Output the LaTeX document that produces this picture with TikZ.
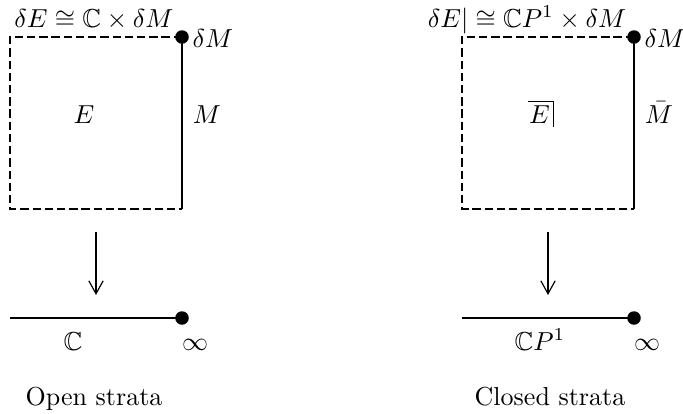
\documentclass[tikz,border=0pt]{standalone}
\usepackage{amssymb}
\usetikzlibrary{arrows.meta}
\newcommand{\cornerE}{$\overline{\mkern1mu E\mkern3mu}$\kern-0.4pt\rule[-1.5pt]{0.4pt}{9.93pt}}
\begin{document}
\begin{tikzpicture}[x=0.3846pt,y=-0.3846pt,
  dashedge/.style={line width=0.55pt,dash pattern=on 3.2pt off 1.5pt},
  solidedge/.style={line width=0.55pt},
  dot/.style={circle,fill=black,inner sep=0pt,minimum size=5.2pt},
  proj/.style={line width=0.45pt,-{Straight Barb[length=5pt,width=5.5pt]}},
  lbl/.style={inner sep=0pt,anchor=base},
  lblw/.style={inner sep=0pt,anchor=base west}]
\useasboundingbox (0,0) rectangle (683,413);
% ---------- left: open strata ----------
\coordinate (LTL) at (10,37);
\coordinate (LBL) at (10,209);
\coordinate (LBR) at (182,209);
\node[dot] (LTR) at (182,37) {};
\draw[dashedge] (LTR.center) -- (LTL) -- (LBL) -- (LBR);
\draw[solidedge] (LTR.center) -- (LBR);
\coordinate (LAs) at (96,232);
\coordinate (LAe) at (96,295);
\draw[proj] (LAs) -- (LAe);
\coordinate (LLs) at (10,318);
\node[dot] (LLe) at (182,318) {};
\draw[solidedge] (LLs) -- (LLe.center);
\node[lbl] (Ltop) at (94,27) {$\delta E \cong \mathbb{C}\times\delta M$};
\node[lblw] (LdM) at (192,47) {$\delta M$};
\node[lbl] (LE) at (84,123) {$E$};
\node[lbl] (LM) at (207,123) {$M$};
\node[lbl] (LC) at (73,350) {$\mathbb{C}$};
\node[lbl] (Linf) at (195,350) {$\infty$};
\node[lbl] (Lcap) at (94,405) {Open strata};
% ---------- right: closed strata ----------
\coordinate (RTL) at (462,37);
\coordinate (RBL) at (462,209);
\coordinate (RBR) at (634,209);
\node[dot] (RTR) at (634,37) {};
\draw[dashedge] (RTR.center) -- (RTL) -- (RBL) -- (RBR);
\draw[solidedge] (RTR.center) -- (RBR);
\coordinate (RAs) at (548,232);
\coordinate (RAe) at (548,295);
\draw[proj] (RAs) -- (RAe);
\coordinate (RLs) at (462,318);
\node[dot] (RLe) at (634,318) {};
\draw[solidedge] (RLs) -- (RLe.center);
\node[lbl] (Rtop) at (527,27) {$\delta E| \cong \mathbb{C}P^1\times\delta M$};
\node[lblw] (RdM) at (644,47) {$\delta M$};
\node[lbl] (RE) at (541,123) {\cornerE};
\node[lbl] (RM) at (659,123) {$\bar{M}$};
\node[lbl] (RC) at (540,350) {$\mathbb{C}P^1$};
\node[lbl] (Rinf) at (647,350) {$\infty$};
\node[lbl] (Rcap) at (550,405) {Closed strata};
\end{tikzpicture}
\end{document}
